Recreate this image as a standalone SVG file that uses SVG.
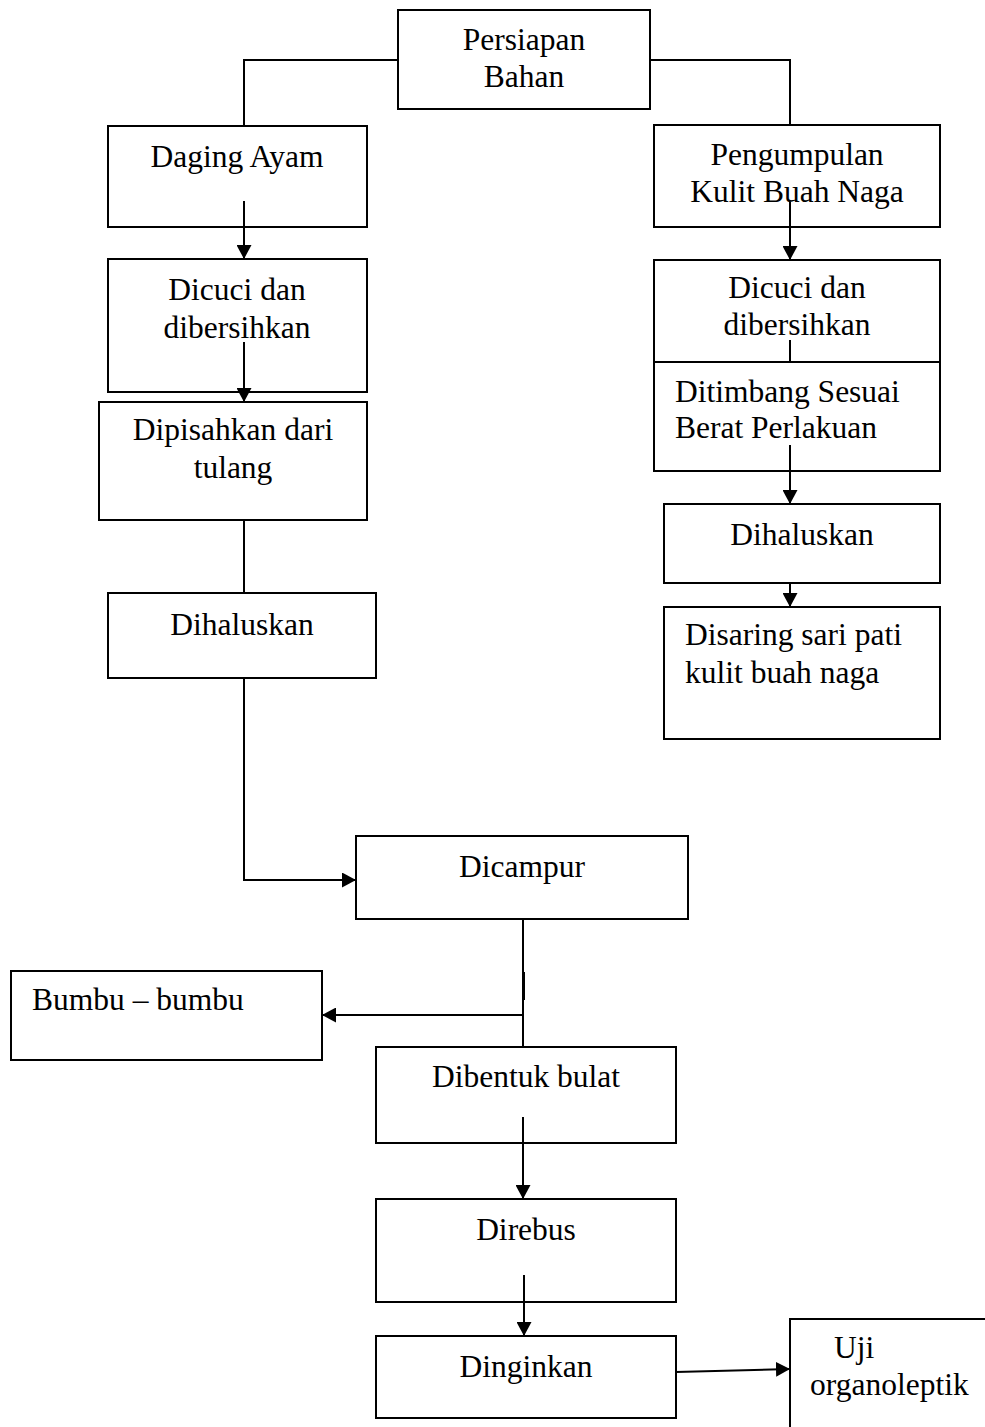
<svg xmlns="http://www.w3.org/2000/svg" width="985" height="1427" viewBox="0 0 985 1427">
<style>
.box{fill:#fff;stroke:#000;stroke-width:2}
.ln{fill:none;stroke:#000;stroke-width:2}
.t{font-family:"Liberation Serif","Times New Roman",serif;font-size:31.5px;fill:#000}
.c{text-anchor:middle}
</style>
<defs>
<marker id="ah" markerUnits="userSpaceOnUse" markerWidth="15" markerHeight="15" refX="14" refY="7.5" orient="auto">
<path d="M0,0 L14,7.5 L0,15 Z" fill="#000"/>
</marker>
</defs>
<rect width="985" height="1427" fill="#fff"/>
<g id="n-persiapan"><rect class="box" x="398" y="10" width="252" height="99"/><text class="t c" x="524" y="50">Persiapan</text><text class="t c" x="524" y="87">Bahan</text></g>
<g id="n-daging"><rect class="box" x="108" y="126" width="259" height="101"/><text class="t c" x="237" y="167">Daging Ayam</text></g>
<g id="n-dicuci-l"><rect class="box" x="108" y="259" width="259" height="133"/><text class="t c" x="237" y="300">Dicuci dan</text><text class="t c" x="237" y="338">dibersihkan</text></g>
<g id="n-dipisahkan"><rect class="box" x="99" y="402" width="268" height="118"/><text class="t c" x="233" y="440">Dipisahkan dari</text><text class="t c" x="233" y="478">tulang</text></g>
<g id="n-dihaluskan-l"><rect class="box" x="108" y="593" width="268" height="85"/><text class="t c" x="242" y="635">Dihaluskan</text></g>
<g id="n-pengumpulan"><rect class="box" x="654" y="125" width="286" height="102"/><text class="t c" x="797" y="165">Pengumpulan</text><text class="t c" x="797" y="202">Kulit Buah Naga</text></g>
<g id="n-dicuci-r"><rect class="box" x="654" y="260" width="286" height="102"/><text class="t c" x="797" y="298">Dicuci dan</text><text class="t c" x="797" y="335">dibersihkan</text></g>
<g id="n-ditimbang"><rect class="box" x="654" y="362" width="286" height="109"/><text class="t" x="675" y="402">Ditimbang Sesuai</text><text class="t" x="675" y="438">Berat Perlakuan</text></g>
<g id="n-dihaluskan-r"><rect class="box" x="664" y="504" width="276" height="79"/><text class="t c" x="802" y="545">Dihaluskan</text></g>
<g id="n-disaring"><rect class="box" x="664" y="607" width="276" height="132"/><text class="t" x="685" y="645">Disaring sari pati</text><text class="t" x="685" y="683">kulit buah naga</text></g>
<g id="n-dicampur"><rect class="box" x="356" y="836" width="332" height="83"/><text class="t c" x="522" y="877">Dicampur</text></g>
<g id="n-bumbu"><rect class="box" x="11" y="971" width="311" height="89"/><text class="t" x="32" y="1010">Bumbu – bumbu</text></g>
<g id="n-dibentuk"><rect class="box" x="376" y="1047" width="300" height="96"/><text class="t c" x="526" y="1087">Dibentuk bulat</text></g>
<g id="n-direbus"><rect class="box" x="376" y="1199" width="300" height="103"/><text class="t c" x="526" y="1240">Direbus</text></g>
<g id="n-dinginkan"><rect class="box" x="376" y="1336" width="300" height="82"/><text class="t c" x="526" y="1377">Dinginkan</text></g>
<g id="n-uji"><rect class="box" x="790" y="1319" width="220" height="140"/><text class="t" x="834" y="1358">Uji</text><text class="t" x="810" y="1395">organoleptik</text></g>
<g id="connectors">
<polyline class="ln" points="398,60 244,60 244,126"/>
<polyline class="ln" points="650,60 790,60 790,125"/>
<line class="ln" x1="244" y1="201" x2="244" y2="259" marker-end="url(#ah)"/>
<line class="ln" x1="244" y1="342" x2="244" y2="402" marker-end="url(#ah)"/>
<line class="ln" x1="244" y1="520" x2="244" y2="593"/>
<polyline class="ln" points="244,678 244,880 356,880" marker-end="url(#ah)"/>
<line class="ln" x1="790" y1="202" x2="790" y2="260" marker-end="url(#ah)"/>
<line class="ln" x1="790" y1="340" x2="790" y2="362"/>
<line class="ln" x1="790" y1="445" x2="790" y2="504" marker-end="url(#ah)"/>
<line class="ln" x1="790" y1="583" x2="790" y2="607" marker-end="url(#ah)"/>
<line class="ln" x1="523" y1="919" x2="523" y2="1047"/>
<line class="ln" x1="524" y1="972" x2="524" y2="1000"/>
<line class="ln" x1="523" y1="1015" x2="322" y2="1015" marker-end="url(#ah)"/>
<line class="ln" x1="523" y1="1117" x2="523" y2="1199" marker-end="url(#ah)"/>
<line class="ln" x1="524" y1="1275" x2="524" y2="1336" marker-end="url(#ah)"/>
<line class="ln" x1="676" y1="1372" x2="790" y2="1369" marker-end="url(#ah)"/>
</g>
</svg>
